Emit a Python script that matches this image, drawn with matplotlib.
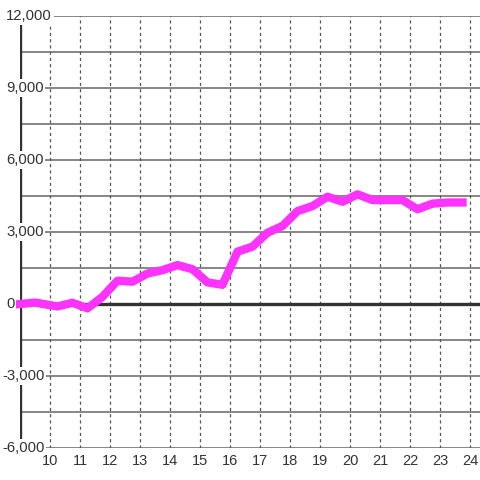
import matplotlib
matplotlib.use('Agg')
import matplotlib.pyplot as plt
import matplotlib.transforms as mtransforms
import numpy as np

# hour of day vs. cumulative value
hours = [9.0, 9.5, 10.25, 10.75, 11.25, 11.75, 12.25, 12.75, 13.25, 13.75,
         14.25, 14.75, 15.25, 15.75, 16.25, 16.75, 17.25, 17.75, 18.25, 18.75,
         19.25, 19.75, 20.25, 20.75, 21.75, 22.25, 22.75, 23.25, 23.75]
values = [0, 60, -100, 50, -180, 300, 970, 930, 1270, 1410,
          1620, 1450, 900, 800, 2180, 2390, 2970, 3250, 3870, 4080,
          4470, 4260, 4570, 4330, 4330, 3950, 4180, 4230, 4230]

x_ticks = list(range(10, 25))
y_labels = [12000, 9000, 6000, 3000, 0, -3000, -6000]

plt.rcParams['font.family'] = ['Liberation Sans', 'DejaVu Sans']

fig = plt.figure(figsize=(4.8, 4.8), dpi=100)
ax = fig.add_axes([20 / 480, 32 / 480, 460 / 480, 432 / 480])
ax.set_xlim(9, 9 + 460 / 30)
ax.set_ylim(-6000, 12000)
for s in ax.spines.values():
    s.set_visible(False)

# grid
for v in np.arange(-6000, 12001, 1500):
    if v != 0:
        ax.axhline(v, color='#666666', lw=1.1, zorder=1)
for t in x_ticks:
    ax.axvline(t, color='#555555', lw=0.9, ls=(0, (2.5, 2.5)), zorder=1)

ax.axhline(0, color='#333333', lw=2.4, zorder=2)
ax.axvline(9, color='#333333', lw=2.4, zorder=2)

ax.plot(hours, values, color='#ff33ff', lw=6, solid_joinstyle='round',
        solid_capstyle='projecting', zorder=3, clip_on=False)

ax.set_xticks(x_ticks)
ax.set_xticklabels([str(t) for t in x_ticks], fontsize=10.5, color='#333333')
ax.tick_params(axis='x', length=0, pad=4.5)
ax.xaxis.set_zorder(6)
ax.set_yticks([])

tr = mtransforms.blended_transform_factory(fig.transFigure, ax.transData)
for v in y_labels:
    x0 = 6 if v >= 0 else 2
    ax.text(x0 / 480, v, f'{v:,}', transform=tr, ha='left', va='center',
            fontsize=10.7, color='#333333', zorder=5, clip_on=False,
            bbox=dict(boxstyle='square,pad=0.12', fc='white', ec='none'))

fig.savefig('out.png', dpi=100)
